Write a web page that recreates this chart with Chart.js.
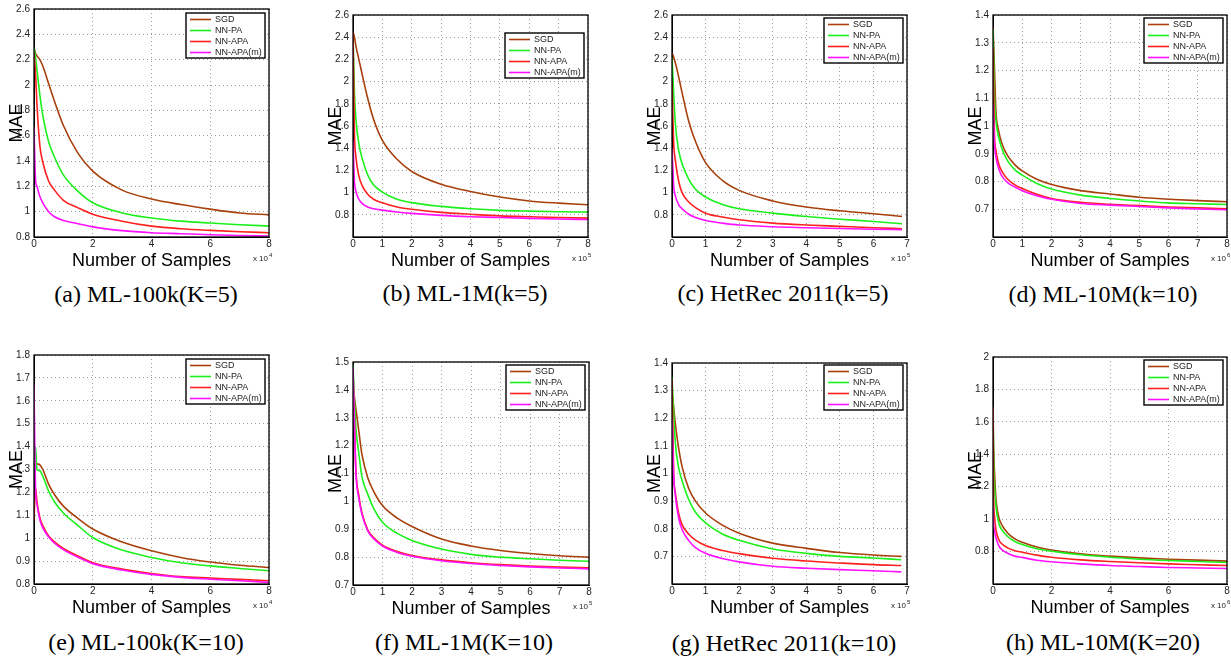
<!DOCTYPE html>
<html>
<head>
<meta charset="utf-8">
<script src="https://cdn.jsdelivr.net/npm/chart.js@4.4.1/dist/chart.umd.min.js"></script>
<style>
  body { margin: 0; background: #fff; width: 1231px; height: 656px; position: relative; overflow: hidden; }
  canvas { position: absolute; }
  .cap { position: absolute; font-family: "Liberation Serif", "Times New Roman", serif; font-size: 24px;
         line-height: 24px; white-space: nowrap; transform: translateX(-50%); color: #000; }
</style>
</head>
<body>
<script>
const seriesNames = ["SGD", "NN-PA", "NN-APA", "NN-APA(m)"];
const seriesColors = ["#a8400c", "#1cf01c", "#ff2020", "#ff10ff"];

// (a) ML-100k(K=5)
const xA = [0, 0.05, 0.1, 0.2, 0.3, 0.5, 0.7, 1, 1.5, 2, 3, 4, 5, 6, 7, 8];
const sgdA = [2.3, 2.25, 2.23, 2.2, 2.15, 2.01, 1.87, 1.68, 1.46, 1.32, 1.17, 1.10, 1.056, 1.02, 0.99, 0.975];
const paA = [2.29, 2.22, 2.12, 1.92, 1.76, 1.55, 1.43, 1.29, 1.16, 1.07, 0.99, 0.95, 0.925, 0.91, 0.897, 0.886];
const apaA = [2.25, 2.1, 1.85, 1.52, 1.39, 1.24, 1.17, 1.09, 1.03, 0.98, 0.925, 0.886, 0.865, 0.852, 0.842, 0.834];
const apamA = [1.67, 1.26, 1.2, 1.12, 1.07, 1.0, 0.96, 0.93, 0.905, 0.88, 0.85, 0.834, 0.826, 0.818, 0.812, 0.808];

// (b) ML-1M(k=5)
const xB = [0, 0.05, 0.1, 0.2, 0.3, 0.5, 0.7, 1, 1.5, 2, 3, 4, 5, 6, 7, 8];
const sgdB = [2.45, 2.4, 2.32, 2.2, 2.08, 1.85, 1.66, 1.47, 1.3, 1.19, 1.075, 1.01, 0.96, 0.925, 0.905, 0.89];
const paB = [2.42, 1.9, 1.66, 1.44, 1.32, 1.16, 1.07, 1.005, 0.94, 0.91, 0.876, 0.854, 0.84, 0.833, 0.828, 0.824];
const apaB = [2.45, 1.53, 1.32, 1.15, 1.07, 0.985, 0.94, 0.908, 0.87, 0.85, 0.822, 0.805, 0.79, 0.782, 0.776, 0.77];
const apamB = [1.47, 1.1, 1.01, 0.94, 0.905, 0.87, 0.855, 0.842, 0.825, 0.813, 0.795, 0.783, 0.775, 0.768, 0.762, 0.757];

// (c) HetRec 2011(k=5)
const xC = [0, 0.05, 0.1, 0.2, 0.3, 0.5, 0.7, 1, 1.5, 2, 3, 4, 5, 6, 6.85];
const sgdC = [2.26, 2.22, 2.17, 2.04, 1.9, 1.64, 1.46, 1.27, 1.11, 1.02, 0.925, 0.87, 0.836, 0.81, 0.785];
const paC = [2.22, 1.9, 1.62, 1.38, 1.26, 1.12, 1.03, 0.96, 0.893, 0.854, 0.815, 0.785, 0.76, 0.74, 0.72];
const apaC = [2.0, 1.45, 1.29, 1.1, 1.0, 0.915, 0.865, 0.815, 0.78, 0.755, 0.725, 0.708, 0.696, 0.684, 0.675];
const apamC = [1.4, 1.06, 0.97, 0.89, 0.855, 0.805, 0.775, 0.748, 0.725, 0.708, 0.693, 0.684, 0.676, 0.67, 0.666];

// (d) ML-10M(k=10)
const xD = [0, 0.05, 0.1, 0.2, 0.3, 0.5, 0.75, 1, 1.5, 2, 3, 4, 5, 6, 7, 8];
const sgdD = [1.36, 1.21, 1.055, 0.98, 0.938, 0.893, 0.86, 0.838, 0.808, 0.789, 0.767, 0.755, 0.743, 0.736, 0.731, 0.727];
const paD = [1.35, 1.11, 1.02, 0.957, 0.92, 0.874, 0.842, 0.823, 0.793, 0.773, 0.751, 0.739, 0.73, 0.723, 0.72, 0.717];
const apaD = [1.28, 0.97, 0.912, 0.862, 0.837, 0.808, 0.788, 0.775, 0.754, 0.739, 0.725, 0.718, 0.713, 0.708, 0.705, 0.702];
const apamD = [1.08, 0.936, 0.888, 0.845, 0.82, 0.796, 0.78, 0.767, 0.749, 0.736, 0.721, 0.715, 0.71, 0.705, 0.701, 0.698];

// (e) ML-100k(K=10)
const xE = [0, 0.05, 0.1, 0.2, 0.3, 0.5, 0.7, 1, 1.5, 2, 3, 4, 5, 6, 7, 8];
const sgdE = [1.33, 1.33, 1.325, 1.32, 1.3, 1.235, 1.19, 1.14, 1.086, 1.04, 0.983, 0.945, 0.916, 0.896, 0.882, 0.872];
const paE = [1.33, 1.4, 1.3, 1.294, 1.27, 1.205, 1.158, 1.11, 1.055, 1.003, 0.948, 0.916, 0.893, 0.879, 0.868, 0.858];
const apaE = [1.08, 1.22, 1.16, 1.09, 1.055, 1.01, 0.984, 0.955, 0.922, 0.893, 0.865, 0.846, 0.832, 0.826, 0.82, 0.814];
const apamE = [1.67, 1.22, 1.15, 1.08, 1.045, 1.005, 0.978, 0.95, 0.917, 0.889, 0.861, 0.842, 0.829, 0.821, 0.814, 0.807];

// (f) ML-1M(K=10)
const xF = [0, 0.05, 0.1, 0.2, 0.3, 0.5, 0.7, 1, 1.5, 2, 3, 4, 5, 6, 7, 8];
const sgdF = [1.4, 1.37, 1.33, 1.25, 1.17, 1.085, 1.036, 0.985, 0.94, 0.91, 0.865, 0.84, 0.824, 0.813, 0.805, 0.8];
const paF = [1.49, 1.36, 1.26, 1.17, 1.09, 1.026, 0.975, 0.925, 0.885, 0.86, 0.829, 0.81, 0.8, 0.794, 0.789, 0.785];
const apaF = [1.47, 1.28, 1.11, 1.02, 0.96, 0.898, 0.87, 0.843, 0.82, 0.806, 0.79, 0.78, 0.773, 0.768, 0.764, 0.762];
const apamF = [1.48, 1.27, 1.1, 1.01, 0.955, 0.894, 0.866, 0.84, 0.817, 0.803, 0.787, 0.777, 0.77, 0.765, 0.761, 0.758];

// (g) HetRec 2011(k=10)
const xG = [0, 0.05, 0.1, 0.2, 0.3, 0.5, 0.7, 1, 1.5, 2, 3, 4, 5, 6, 6.83];
const sgdG = [1.3, 1.24, 1.18, 1.09, 1.025, 0.945, 0.9, 0.857, 0.813, 0.784, 0.748, 0.729, 0.714, 0.705, 0.7];
const paG = [1.35, 1.22, 1.11, 1.02, 0.975, 0.905, 0.86, 0.821, 0.781, 0.758, 0.727, 0.711, 0.7, 0.694, 0.688];
const apaG = [1.34, 1.0, 0.93, 0.855, 0.815, 0.78, 0.759, 0.739, 0.721, 0.71, 0.693, 0.683, 0.676, 0.67, 0.667];
const apamG = [1.2, 0.99, 0.92, 0.838, 0.797, 0.757, 0.732, 0.711, 0.692, 0.68, 0.664, 0.657, 0.652, 0.648, 0.644];

// (h) ML-10M(K=20)
const xH = [0, 0.02, 0.05, 0.1, 0.2, 0.3, 0.5, 0.75, 1, 1.5, 2, 3, 4, 5, 6, 7, 8];
const sgdH = [1.69, 1.44, 1.3, 1.13, 1.01, 0.965, 0.915, 0.878, 0.857, 0.828, 0.81, 0.786, 0.772, 0.761, 0.753, 0.747, 0.741];
const paH = [1.67, 1.4, 1.22, 1.08, 0.975, 0.935, 0.893, 0.862, 0.843, 0.817, 0.802, 0.78, 0.765, 0.753, 0.745, 0.739, 0.733];
const apaH = [1.69, 1.15, 1.02, 0.935, 0.872, 0.848, 0.823, 0.805, 0.796, 0.778, 0.765, 0.749, 0.739, 0.731, 0.724, 0.719, 0.714];
const apamH = [1.08, 0.97, 0.93, 0.885, 0.835, 0.812, 0.79, 0.772, 0.764, 0.746, 0.737, 0.724, 0.714, 0.708, 0.702, 0.699, 0.696];

// tick labels
const xTicksEven = [0, 2, 4, 6, 8];
const xTicks8 = [0, 1, 2, 3, 4, 5, 6, 7, 8];
const xTicks7 = [0, 1, 2, 3, 4, 5, 6, 7];
const yTicks26 = [0.8, 1, 1.2, 1.4, 1.6, 1.8, 2, 2.2, 2.4, 2.6];
const yTicks14 = [0.7, 0.8, 0.9, 1, 1.1, 1.2, 1.3, 1.4];
const yTicks18 = [0.8, 0.9, 1, 1.1, 1.2, 1.3, 1.4, 1.5, 1.6, 1.7, 1.8];
const yTicks15 = [0.7, 0.8, 0.9, 1, 1.1, 1.2, 1.3, 1.4, 1.5];
const yTicks20 = [0.8, 1, 1.2, 1.4, 1.6, 1.8, 2];

const captions = ["(a) ML-100k(K=5)", "(b) ML-1M(k=5)", "(c) HetRec 2011(k=5)", "(d) ML-10M(k=10)",
                  "(e) ML-100k(K=10)", "(f) ML-1M(K=10)", "(g) HetRec 2011(k=10)", "(h) ML-10M(K=20)"];

// plot box of each panel on the page
const panels = [
  { L: 34, R: 269, T: 7, B: 237, x: xA, ys: [sgdA, paA, apaA, apamA], xt: xTicksEven, yt: yTicks26, xMax: 8, yMin: 0.8, yMax: 2.6, exp: "4", lt: 4, cx: 146, cy: 282 },
  { L: 353, R: 588, T: 13, B: 237, x: xB, ys: [sgdB, paB, apaB, apamB], xt: xTicks8, yt: yTicks26, xMax: 8, yMin: 0.6, yMax: 2.6, exp: "5", lt: 18, cx: 465, cy: 281 },
  { L: 672, R: 907, T: 13, B: 237, x: xC, ys: [sgdC, paC, apaC, apamC], xt: xTicks7, yt: yTicks26, xMax: 7, yMin: 0.6, yMax: 2.6, exp: "5", lt: 3, cx: 783, cy: 281 },
  { L: 993, R: 1227, T: 13, B: 237, x: xD, ys: [sgdD, paD, apaD, apamD], xt: xTicks8, yt: yTicks14, xMax: 8, yMin: 0.6, yMax: 1.4, exp: "6", lt: 3, cx: 1103, cy: 282 },
  { L: 34, R: 269, T: 353, B: 584, x: xE, ys: [sgdE, paE, apaE, apamE], xt: xTicksEven, yt: yTicks18, xMax: 8, yMin: 0.8, yMax: 1.8, exp: "4", lt: 4, cx: 146, cy: 630 },
  { L: 353, R: 589, T: 360, B: 585, x: xF, ys: [sgdF, paF, apaF, apamF], xt: xTicks8, yt: yTicks15, xMax: 8, yMin: 0.7, yMax: 1.5, exp: "5", lt: 3, cx: 464, cy: 630 },
  { L: 672, R: 907, T: 361, B: 584, x: xG, ys: [sgdG, paG, apaG, apamG], xt: xTicks7, yt: yTicks14, xMax: 7, yMin: 0.6, yMax: 1.4, exp: "5", lt: 2, cx: 784, cy: 631 },
  { L: 993, R: 1227, T: 355, B: 584, x: xH, ys: [sgdH, paH, apaH, apamH], xt: xTicksEven, yt: yTicks20, xMax: 8, yMin: 0.6, yMax: 2, exp: "6", lt: 3, cx: 1103, cy: 630 }
];

const YW = 34, TP = 8, RP = 6, XH = 36;
const FONT = '"Liberation Sans", Arial, sans-serif';
Chart.defaults.font.family = FONT;

// frame, inner legend and axis exponent
const framePlugin = {
  id: "frame",
  afterDatasetsDraw(chart, args, opts) {
    const { ctx, chartArea: a } = chart;
    ctx.save();
    ctx.strokeStyle = "#000";
    ctx.lineWidth = 1.3;
    ctx.strokeRect(a.left, a.top, a.right - a.left, a.bottom - a.top);

    const bw = 79, bh = 45;
    const bx = a.right - 4 - bw, by = a.top + opts.lt;
    ctx.fillStyle = "#fff";
    ctx.fillRect(bx, by, bw, bh);
    ctx.lineWidth = 1.4;
    ctx.strokeRect(bx, by, bw, bh);
    ctx.font = "9px " + FONT;
    ctx.textBaseline = "middle";
    chart.data.datasets.forEach((ds, i) => {
      const yy = by + 6.5 + i * 11;
      ctx.strokeStyle = ds.borderColor;
      ctx.lineWidth = 1.6;
      ctx.beginPath();
      ctx.moveTo(bx + 4, yy);
      ctx.lineTo(bx + 25, yy);
      ctx.stroke();
      ctx.fillStyle = "#222";
      ctx.fillText(ds.label, bx + 29, yy + 0.5);
    });

    ctx.fillStyle = "#222";
    ctx.textBaseline = "alphabetic";
    ctx.textAlign = "right";
    ctx.font = "8px " + FONT;
    ctx.fillText("x 10", a.right - 1, a.bottom + 24);
    ctx.textAlign = "left";
    ctx.font = "6px " + FONT;
    ctx.fillText(opts.exp, a.right, a.bottom + 19.5);
    ctx.restore();
  }
};

panels.forEach((p, i) => {
  const cv = document.createElement("canvas");
  const w = p.R - p.L + YW + RP, h = p.B - p.T + TP + XH;
  cv.width = w;
  cv.height = h;
  cv.style.left = (p.L - YW) + "px";
  cv.style.top = (p.T - TP) + "px";
  cv.style.width = w + "px";
  cv.style.height = h + "px";
  document.body.appendChild(cv);

  new Chart(cv, {
    type: "line",
    data: {
      datasets: seriesNames.map((name, k) => ({
        label: name,
        data: p.x.map((xv, j) => ({ x: xv, y: p.ys[k][j] })),
        borderColor: seriesColors[k],
        borderWidth: 1.6,
        pointRadius: 0,
        cubicInterpolationMode: "monotone",
        fill: false,
        order: 4 - k
      }))
    },
    options: {
      responsive: false,
      animation: false,
      events: [],
      layout: { padding: { top: TP, right: RP, left: 0, bottom: 0 } },
      plugins: {
        legend: { display: false },
        tooltip: { enabled: false },
        frame: { lt: p.lt, exp: p.exp }
      },
      scales: {
        x: {
          type: "linear",
          min: 0,
          max: p.xMax,
          afterBuildTicks: s => { s.ticks = p.xt.map(v => ({ value: v })); },
          afterFit: s => { s.height = XH; },
          ticks: { padding: 1, color: "#222", font: { size: 10 }, maxRotation: 0, autoSkip: false, callback: v => String(v) },
          grid: { color: "#9a9a9a", lineWidth: 1, drawTicks: false },
          border: { color: "#000", dash: [1, 3] },
          title: { display: true, text: "Number of Samples", color: "#000", font: { size: 18, lineHeight: 1 }, padding: { top: 0, bottom: XH - 24 - 9 } }
        },
        y: {
          type: "linear",
          min: p.yMin,
          max: p.yMax,
          afterBuildTicks: s => { s.ticks = p.yt.map(v => ({ value: v })); },
          afterFit: s => { s.width = YW; },
          ticks: { padding: 4, color: "#222", font: { size: 10 }, autoSkip: false, callback: v => String(+v.toFixed(2)) },
          grid: { color: "#9a9a9a", lineWidth: 1, drawTicks: false },
          border: { color: "#000", dash: [1, 3] },
          title: { display: true, text: "MAE", color: "#000", font: { size: 18, lineHeight: 1 }, padding: { top: YW - 17 - 9, bottom: 0 } }
        }
      }
    },
    plugins: [framePlugin]
  });

  const cap = document.createElement("div");
  cap.className = "cap";
  cap.textContent = captions[i];
  cap.style.left = p.cx + "px";
  cap.style.top = p.cy + "px";
  document.body.appendChild(cap);
});
</script>
</body>
</html>
